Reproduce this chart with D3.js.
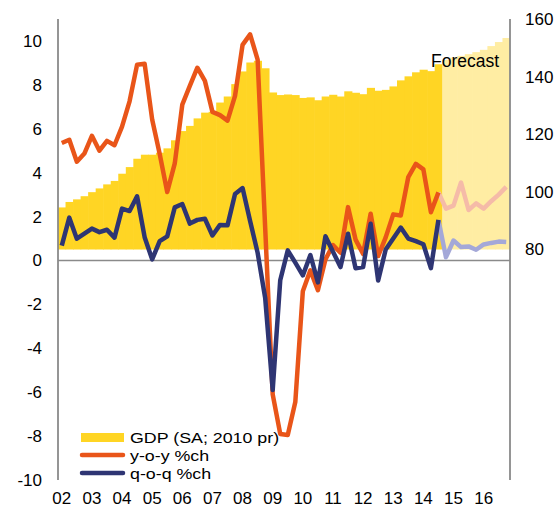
<!DOCTYPE html>
<html>
<head>
<meta charset="utf-8">
<script src="https://cdnjs.cloudflare.com/ajax/libs/d3/7.8.5/d3.min.js"></script>
<style>
  body { margin: 0; background: #fff; }
  .chart text { font-family: "Liberation Sans", Arial, sans-serif; font-size: 17px; fill: #000; }
  .chart .legend text { font-size: 15.5px; }
</style>
</head>
<body>
<div class="chart"></div>
<script>
// GDP chart: index bars (right axis) + y-o-y / q-o-q growth lines (left axis)

// data
var years = ["02", "03", "04", "05", "06", "07", "08", "09", "10", "11", "12", "13", "14", "15", "16"];
var quarterNames = ["Q1", "Q2", "Q3", "Q4"];

// GDP (SA; 2010 prices), one value per quarter
var gdpIndex = [
  94.6, 96.5, 97.4, 98.5,
  99.9, 101.2, 102.6, 103.8,
  106.3, 108.6, 111.5, 112.9,
  112.9, 113.6, 115.1, 117.9,
  121.1, 122.9, 125.5, 127.5,
  127.8, 131.0, 133.1, 137.4,
  141.8, 144.9, 145.5, 142.9,
  134.5, 133.6, 133.8, 133.6,
  132.6, 132.8, 131.8, 133.1,
  133.7, 133.1, 134.9, 134.4,
  133.9, 136.1, 135.1, 135.4,
  136.6, 138.7, 140.1, 141.5,
  142.4, 141.9, 144.3, 145.8,
  146.6, 147.2, 147.8, 148.5,
  149.3, 150.6, 152.0, 153.4
];

// y-o-y %ch
var yoyChange = [
  5.35, 5.5, 4.5, 4.87,
  5.68, 5.0, 5.45, 5.25,
  6.1, 7.25, 8.92, 8.96,
  6.42, 4.85, 3.12, 4.42,
  7.1, 7.95, 8.78, 8.18,
  6.77, 6.62, 6.37, 7.5,
  9.82, 10.3, 9.15, 1.5,
  -6.1, -7.9, -7.95, -6.45,
  -1.4, -0.45, -1.35, 0.05,
  0.7, 0.35, 2.43, 0.95,
  0.3, 2.13, 0.2, 1.05,
  2.1, 2.05, 3.8, 4.4,
  4.15, 2.2, 3.1, 2.36,
  2.5, 3.55, 2.3, 2.6,
  2.36, 2.7, 3.0, 3.35
];

// q-o-q %ch
var qoqChange = [
  0.68, 1.95, 0.99, 1.22,
  1.45, 1.29, 1.4, 1.04,
  2.36, 2.25, 2.92, 1.06,
  0.05, 0.88, 1.1, 2.42,
  2.57, 1.68, 1.85, 1.9,
  1.14, 1.62, 1.6, 3.03,
  3.3, 1.8, 0.35, -1.7,
  -5.9, -0.9, 0.46, -0.1,
  -0.68, 0.25, -1.0, 1.1,
  0.4, -0.3, 1.22, -0.35,
  -0.3, 1.67, -0.91, 0.5,
  1.0, 1.5, 1.0, 0.88,
  0.74, -0.35, 1.85, 0.15,
  0.91, 0.61, 0.64, 0.49,
  0.73, 0.8, 0.86, 0.84
];

var firstForecast = "14Q4";
var leftTicks = [-10, -8, -6, -4, -2, 0, 2, 4, 6, 8, 10];
var rightTicks = [80, 100, 120, 140, 160];

// quarter keys like "02Q1"
var quarters = [];
years.forEach(function (y) {
  quarterNames.forEach(function (q) { quarters.push(y + q); });
});
var fcIndex = quarters.indexOf(firstForecast);

// svg container
var svgWidth = 560;
var svgHeight = 509;

var margin = {
  top: 19,
  right: 50,
  bottom: 29,
  left: 58
};

var chartWidth = svgWidth - margin.left - margin.right;
var chartHeight = svgHeight - margin.top - margin.bottom;

var svg = d3.select(".chart")
  .append("svg")
  .attr("width", svgWidth)
  .attr("height", svgHeight);

var chartGroup = svg.append("g")
  .attr("transform", `translate(${margin.left}, ${margin.top})`);

// scales
var xBand = d3.scaleBand()
  .domain(quarters)
  .range([0, chartWidth])
  .padding(0);

var yLeft = d3.scaleLinear()
  .domain([-10, 11])
  .range([chartHeight, 0]);

var yRight = d3.scaleLinear()
  .domain([0, 160])
  .range([chartHeight, 0]);

var bw = xBand.bandwidth();

// GDP bars (step area)
chartGroup.append("g")
  .selectAll("rect")
  .data(gdpIndex)
  .enter()
  .append("rect")
  .attr("x", (d, i) => xBand(quarters[i]))
  .attr("width", (d, i) => i === quarters.length - 1 ? bw : bw + 0.6)
  .attr("y", d => yRight(d))
  .attr("height", d => yRight(80) - yRight(d))
  .attr("fill", (d, i) => i >= fcIndex ? "#FFEDA3" : "#FFD524");

// axis lines
chartGroup.append("line")
  .attr("x1", 0).attr("x2", chartWidth)
  .attr("y1", yLeft(0)).attr("y2", yLeft(0))
  .attr("stroke", "#8a8a8a").attr("stroke-width", 1.6);

chartGroup.append("line")
  .attr("x1", 0).attr("x2", 0)
  .attr("y1", 0).attr("y2", chartHeight)
  .attr("stroke", "#8a8a8a").attr("stroke-width", 1.8);

chartGroup.append("line")
  .attr("x1", chartWidth).attr("x2", chartWidth)
  .attr("y1", 0).attr("y2", chartHeight)
  .attr("stroke", "#8a8a8a").attr("stroke-width", 1.8);

// axis labels
var leftAxis = d3.axisLeft(yLeft)
  .tickValues(leftTicks)
  .tickSize(0)
  .tickPadding(16)
  .tickFormat(d => String(d));

var rightAxis = d3.axisRight(yRight)
  .tickValues(rightTicks)
  .tickSize(0)
  .tickPadding(15);

var bottomAxis = d3.axisBottom(xBand)
  .tickValues(quarters.filter(q => q.slice(2) === "Q1"))
  .tickSize(0)
  .tickPadding(12)
  .tickFormat(q => q.slice(0, 2));

chartGroup.append("g").call(leftAxis)
  .call(g => g.select(".domain").remove());

chartGroup.append("g")
  .attr("transform", `translate(${chartWidth}, 0)`)
  .call(rightAxis)
  .call(g => g.select(".domain").remove());

chartGroup.append("g")
  .attr("transform", `translate(0, ${chartHeight})`)
  .call(bottomAxis)
  .call(g => g.select(".domain").remove());

// lines
var line = d3.line()
  .x(d => xBand(d.q) + bw / 2)
  .y(d => yLeft(d.v));

function pts(values) {
  return values.map((v, i) => ({ q: quarters[i], v: v }));
}

function drawSeries(values, color, fcColor) {
  var p = pts(values);
  // forecast part first, lighter colour
  chartGroup.append("path")
    .datum(p.slice(fcIndex - 1))
    .attr("d", line)
    .attr("fill", "none")
    .attr("stroke", fcColor)
    .attr("stroke-width", 4.5)
    .attr("stroke-linejoin", "round");
  chartGroup.append("path")
    .datum(p.slice(0, fcIndex))
    .attr("d", line)
    .attr("fill", "none")
    .attr("stroke", color)
    .attr("stroke-width", 4.5)
    .attr("stroke-linejoin", "round");
}

drawSeries(yoyChange, "#E95519", "#F5BBA8");
drawSeries(qoqChange, "#2E3573", "#A4A8D8");

// forecast label
chartGroup.append("text")
  .attr("x", 373)
  .attr("y", 48)
  .style("font-size", "17.5px")
  .text("Forecast");

// legend
var legend = chartGroup.append("g")
  .attr("class", "legend")
  .attr("transform", "translate(23, 414)");

legend.append("rect")
  .attr("x", 0).attr("y", 0)
  .attr("width", 43).attr("height", 9)
  .attr("fill", "#FFD524");

legend.append("line")
  .attr("x1", 1).attr("x2", 42)
  .attr("y1", 22).attr("y2", 22)
  .attr("stroke", "#E95519").attr("stroke-width", 4.5)
  .attr("stroke-linecap", "round");

legend.append("line")
  .attr("x1", 1).attr("x2", 42)
  .attr("y1", 40).attr("y2", 40)
  .attr("stroke", "#2E3573").attr("stroke-width", 4.5)
  .attr("stroke-linecap", "round");

var legendLabels = ["GDP (SA; 2010 pr)", "y-o-y %ch", "q-o-q %ch"];
legend.selectAll("text.lbl")
  .data(legendLabels)
  .enter()
  .append("text")
  .attr("class", "lbl")
  .attr("transform", (d, i) => `translate(49, ${10 + i * 18}) scale(1.15, 1)`)
  .text(d => d);
</script>
</body>
</html>
